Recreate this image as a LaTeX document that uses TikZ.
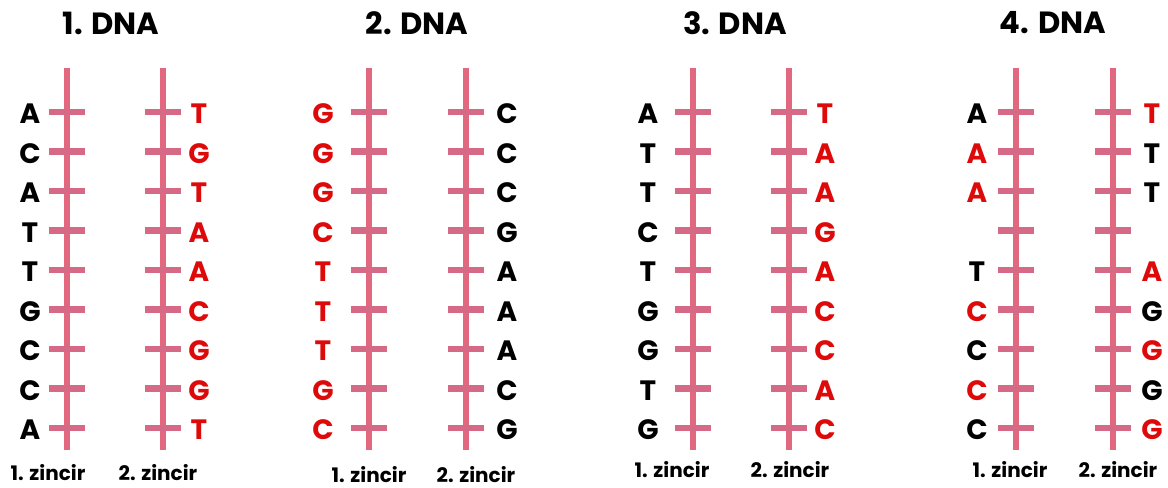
\documentclass[tikz,border=0pt]{standalone}
\usepackage{fontspec}
\setmainfont{Poppins}
\usepackage{xcolor}
\definecolor{strandpink}{RGB}{226, 104, 128}
\definecolor{rungpink}{RGB}{214, 106, 134}
\definecolor{baseRed}{RGB}{222, 10, 10}

\tikzset{
  strandline/.style={draw=strandpink, line width=3.8pt},
  rungline/.style={draw=rungpink, line width=5.2pt},
  base/.style={font=\bfseries\fontsize{21}{21}\selectfont, inner sep=0pt},
  title/.style={font=\bfseries\fontsize{23}{23}\selectfont, inner sep=0pt},
  chainlabel/.style={font=\bfseries\fontsize{15}{15}\selectfont, inner sep=0pt}
}

% one strand of the ladder: x position
\newcommand{\strand}[1]{%
  \draw[strandline] (#1,68) -- (#1,450);
  \foreach \ry in {112,151.5,191,230.5,270,309.5,349,388.5,428}
    \draw[rungline] (#1-18,\ry) -- (#1+18,\ry);
}

\begin{document}
\begin{tikzpicture}[x=0.75pt,y=-0.75pt]
\useasboundingbox (0,0) rectangle (1168,488);
\fill[white] (0,0) rectangle (1168,488);

% 1. DNA
\node[title] (t1) at (111,23) {1. DNA};
\strand{67} \strand{163}
\foreach \b/\c [count=\i] in {A/black,C/black,A/black,T/black,T/black,G/black,C/black,C/black,A/black}
  \node[base, text=\c] (a\i) at (30,114+39.5*\i-39.5) {\b};
\foreach \b/\c [count=\i] in {T/baseRed,G/baseRed,T/baseRed,A/baseRed,A/baseRed,C/baseRed,G/baseRed,G/baseRed,T/baseRed}
  \node[base, text=\c] (b\i) at (199,114+39.5*\i-39.5) {\b};
\node[chainlabel] (z1a) at (48,473) {1. zincir};
\node[chainlabel] (z1b) at (158,473) {2. zincir};

% 2. DNA
\node[title] (t2) at (417,23) {2. DNA};
\strand{369} \strand{466}
\foreach \b/\c [count=\i] in {G/baseRed,G/baseRed,G/baseRed,C/baseRed,T/baseRed,T/baseRed,T/baseRed,G/baseRed,C/baseRed}
  \node[base, text=\c] (c\i) at (323,114+39.5*\i-39.5) {\b};
\foreach \b/\c [count=\i] in {C/black,C/black,C/black,G/black,A/black,A/black,A/black,C/black,G/black}
  \node[base, text=\c] (d\i) at (507,114+39.5*\i-39.5) {\b};
\node[chainlabel] (z2a) at (369,475) {1. zincir};
\node[chainlabel] (z2b) at (476,475) {2. zincir};

% 3. DNA
\node[title] (t3) at (735,23) {3. DNA};
\strand{693} \strand{789}
\foreach \b/\c [count=\i] in {A/black,T/black,T/black,C/black,T/black,G/black,G/black,T/black,G/black}
  \node[base, text=\c] (e\i) at (648,114+39.5*\i-39.5) {\b};
\foreach \b/\c [count=\i] in {T/baseRed,A/baseRed,A/baseRed,G/baseRed,A/baseRed,C/baseRed,C/baseRed,A/baseRed,C/baseRed}
  \node[base, text=\c] (f\i) at (825,114+39.5*\i-39.5) {\b};
\node[chainlabel] (z3a) at (672,470) {1. zincir};
\node[chainlabel] (z3b) at (790,470) {2. zincir};

% 4. DNA (4th rung has no bases)
\node[title] (t4) at (1053,23) {4. DNA};
\strand{1016} \strand{1113}
\foreach \b/\c/\i in {A/black/1,A/baseRed/2,A/baseRed/3,T/black/5,C/baseRed/6,C/black/7,C/baseRed/8,C/black/9}
  \node[base, text=\c] (g\i) at (977,114+39.5*\i-39.5) {\b};
\foreach \b/\c/\i in {T/baseRed/1,T/black/2,T/black/3,A/baseRed/5,G/black/6,G/baseRed/7,G/black/8,G/baseRed/9}
  \node[base, text=\c] (h\i) at (1152,114+39.5*\i-39.5) {\b};
\node[chainlabel] (z4a) at (1010,470) {1. zincir};
\node[chainlabel] (z4b) at (1118,470) {2. zincir};

\end{tikzpicture}
\end{document}
